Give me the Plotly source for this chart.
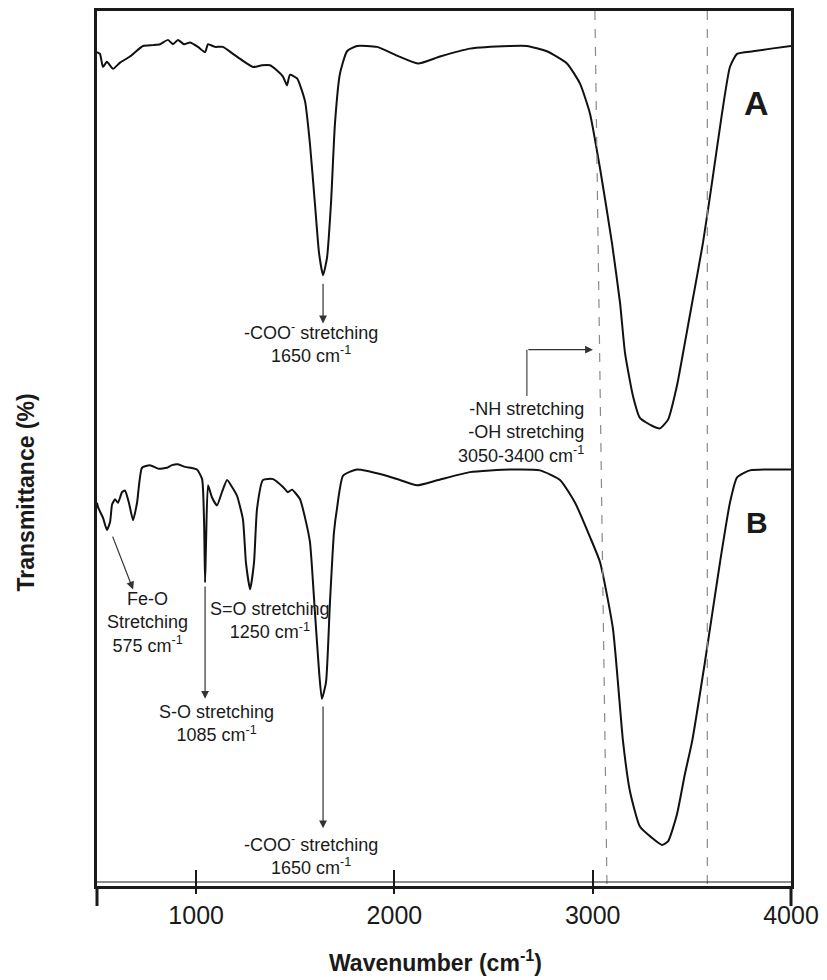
import plotly.graph_objects as go

# FTIR spectra: wavenumber (cm-1) vs. transmittance (arbitrary offset scale)
wn_a = [500, 515, 530, 550, 581, 616, 666, 732, 782, 818, 858, 883, 908, 939, 969,
        1009, 1045, 1060, 1095, 1135, 1186, 1236, 1287, 1332, 1372, 1408, 1438, 1458,
        1473, 1509, 1549, 1574, 1599, 1620, 1640, 1660, 1680, 1700, 1725, 1761, 1811,
        1912, 2013, 2119, 2230, 2381, 2583, 2668, 2769, 2870, 2936, 2986, 3037, 3097,
        3138, 3163, 3203, 3238, 3299, 3339, 3380, 3425, 3465, 3501, 3556, 3601, 3652,
        3692, 3728, 3808, 3900, 4000]
t_a = [95.3, 95.1, 93.6, 94.2, 93.4, 94.1, 94.8, 96.0, 96.1, 96.2, 96.7, 96.2, 96.7, 96.2, 96.4,
       95.9, 95.3, 96.2, 95.9, 95.9, 95.1, 94.3, 93.6, 93.8, 93.8, 93.2, 92.5, 91.5,
       92.7, 92.3, 89.7, 84.8, 78.0, 72.3, 69.8, 71.8, 78.0, 87.1, 92.8, 95.4, 96.0,
       95.9, 94.9, 94.0, 94.8, 95.7, 96.0, 96.0, 95.4, 94.0, 91.7, 88.3, 82.0, 73.5,
       66.6, 60.9, 56.0, 53.5, 52.6, 52.3, 53.3, 57.2, 62.1, 66.6, 73.5, 80.3, 88.3,
       93.6, 95.1, 95.4, 95.7, 96.0]

wn_b = [500, 505, 530, 550, 566, 576, 591, 606, 626, 641, 661, 682, 702, 727, 767,
        808, 853, 878, 908, 944, 1004, 1030, 1040, 1045, 1050, 1060, 1080, 1105, 1130,
        1156, 1181, 1206, 1236, 1251, 1272, 1292, 1307, 1337, 1388, 1438, 1463, 1483,
        1524, 1549, 1574, 1599, 1620, 1634, 1655, 1675, 1695, 1710, 1741, 1811, 1942,
        2028, 2114, 2220, 2381, 2583, 2734, 2835, 2911, 2986, 3037, 3102, 3153, 3188,
        3238, 3299, 3349, 3380, 3425, 3465, 3501, 3566, 3642, 3692, 3728, 3793, 4000]
t_b = [43.8, 43.3, 42.1, 40.7, 41.6, 43.6, 44.2, 43.8, 45.0, 45.2, 43.8, 41.8, 43.8, 47.8, 48.1,
       47.7, 47.8, 48.1, 48.2, 47.9, 47.6, 46.5, 41.6, 34.7, 39.3, 45.8, 44.4, 43.5, 45.0,
       46.4, 45.6, 44.6, 41.9, 37.0, 33.9, 37.0, 43.1, 46.4, 46.5, 45.6, 45.0, 45.3,
       44.2, 42.1, 39.3, 31.3, 24.5, 21.4, 23.3, 32.5, 40.4, 43.1, 46.9, 47.6, 47.0,
       46.4, 45.8, 46.4, 47.3, 47.6, 47.5, 46.4, 43.8, 39.9, 37.0, 29.4, 16.5, 10.8,
       6.8, 5.5, 4.7, 5.1, 8.2, 12.8, 16.5, 25.6, 37.0, 43.8, 46.7, 47.5, 47.6]

x_ticks = [1000, 2000, 3000, 4000]
# dashed guide lines bounding the -NH/-OH band: (wavenumber at top, wavenumber at bottom)
band_guides = [(3011, 3072), (3578, 3578)]

FONT = "Liberation Sans, Arial, sans-serif"
INK = "#1a1a1a"

fig = go.Figure()
for wn, t in ((wn_a, t_a), (wn_b, t_b)):
    fig.add_trace(go.Scatter(x=wn, y=t, mode="lines",
                             line=dict(color="#111111", width=2.0, shape="spline", smoothing=0.5),
                             hoverinfo="skip", showlegend=False))

# invisible trace to carry the overlaid tick axis
fig.add_trace(go.Scatter(x=[500, 4000], y=[0, 0], xaxis="x2", mode="lines",
                         line=dict(width=0), hoverinfo="skip", showlegend=False))

shapes = []
for top, bottom in band_guides:
    shapes.append(dict(type="line", xref="x", yref="y", x0=top, x1=bottom, y0=100, y1=0,
                       line=dict(color="#8a8a8a", width=1.2, dash="dash")))
# second (thin) line of the double baseline
shapes.append(dict(type="line", xref="x domain", yref="y domain", x0=0, x1=1,
                   ysizemode="pixel", yanchor=0, y0=4, y1=4,
                   line=dict(color=INK, width=1)))
# frame edges extending below the baseline
for xd in (0, 1):
    shapes.append(dict(type="line", xref="x domain", yref="y domain", x0=xd, x1=xd,
                       ysizemode="pixel", yanchor=0, y0=0, y1=-20,
                       line=dict(color=INK, width=3)))
# elbow connector of the -NH / -OH callout
shapes.append(dict(type="line", xref="x", yref="y", x0=2668, x1=2668, y0=56.0, y1=61.3,
                   line=dict(color="#444444", width=1.2)))

ann = []


def label(x, y, text, size=18, xanchor="center", align="center"):
    ann.append(dict(x=x, y=y, xref="x", yref="y", text=text, showarrow=False,
                    xanchor=xanchor, yanchor="middle", align=align,
                    font=dict(family=FONT, size=size, color=INK)))


def arrow(x, y, ax, ay):
    ann.append(dict(x=x, y=y, ax=ax, ay=ay, xref="x", yref="y", axref="x", ayref="y",
                    text="", showarrow=True, arrowhead=2, arrowsize=1.3, arrowwidth=1.2,
                    arrowcolor="#333333"))


label(1577, 62.1, "-COO<sup>-</sup> stretching<br>1650 cm<sup>-1</sup>")
arrow(1640, 64.3, 1640, 69.0)

label(2966, 51.8, "-NH stretching<br>-OH stretching<br>3050-3400 cm<sup>-1</sup>",
      xanchor="right", align="right")
arrow(3001, 61.3, 2668, 61.3)

label(757, 30.1, "Fe-O<br>Stretching<br>575 cm<sup>-1</sup>")
arrow(682, 33.9, 576, 40.1)

label(1372, 30.3, "S=O stretching<br>1250 cm<sup>-1</sup>")

label(1105, 18.6, "S-O stretching<br>1085 cm<sup>-1</sup>")
arrow(1045, 21.4, 1045, 34.4)

label(1577, 3.6, "-COO<sup>-</sup> stretching<br>1650 cm<sup>-1</sup>")
arrow(1640, 6.6, 1640, 20.7)

ann.append(dict(x=3828, y=89.5, xref="x", yref="y", text="<b>A</b>", showarrow=False,
                font=dict(family=FONT, size=34, color=INK)))
ann.append(dict(x=3828, y=41.6, xref="x", yref="y", text="<b>B</b>", showarrow=False,
                font=dict(family=FONT, size=30, color=INK)))

# vertical axis title
ann.append(dict(x=-0.102, y=0.45, xref="paper", yref="paper", text="<b>Transmittance (%)</b>",
                textangle=-90, showarrow=False, xanchor="center", yanchor="middle",
                font=dict(family=FONT, size=23, color=INK)))

# horizontal axis title
ann.append(dict(x=0.488, y=-0.086, xref="paper", yref="paper",
                text="<b>Wavenumber (cm<sup>-1</sup>)</b>", showarrow=False,
                xanchor="center", yanchor="middle",
                font=dict(family=FONT, size=23, color=INK)))

fig.update_layout(
    width=827, height=980,
    margin=dict(l=97, r=36, t=8, b=94),
    paper_bgcolor="white", plot_bgcolor="white",
    font=dict(family=FONT, color=INK),
    shapes=shapes, annotations=ann,
    xaxis=dict(range=[500, 4000], tickvals=x_ticks, ticks="outside", ticklen=5,
               tickwidth=1.5, tickcolor=INK, showgrid=False, zeroline=False,
               showline=True, linecolor=INK, linewidth=3, mirror=True,
               tickfont=dict(family=FONT, size=25, color=INK)),
    xaxis2=dict(range=[500, 4000], overlaying="x", anchor="y", side="bottom",
                tickvals=x_ticks[:-1], ticks="inside", ticklen=16, tickwidth=1.5,
                tickcolor=INK, showticklabels=False, showgrid=False, zeroline=False,
                showline=False),
    yaxis=dict(range=[0, 100], showticklabels=False, ticks="", showgrid=False,
               zeroline=False, showline=True, linecolor=INK, linewidth=3, mirror=True),
)

fig.write_html("out.html")
